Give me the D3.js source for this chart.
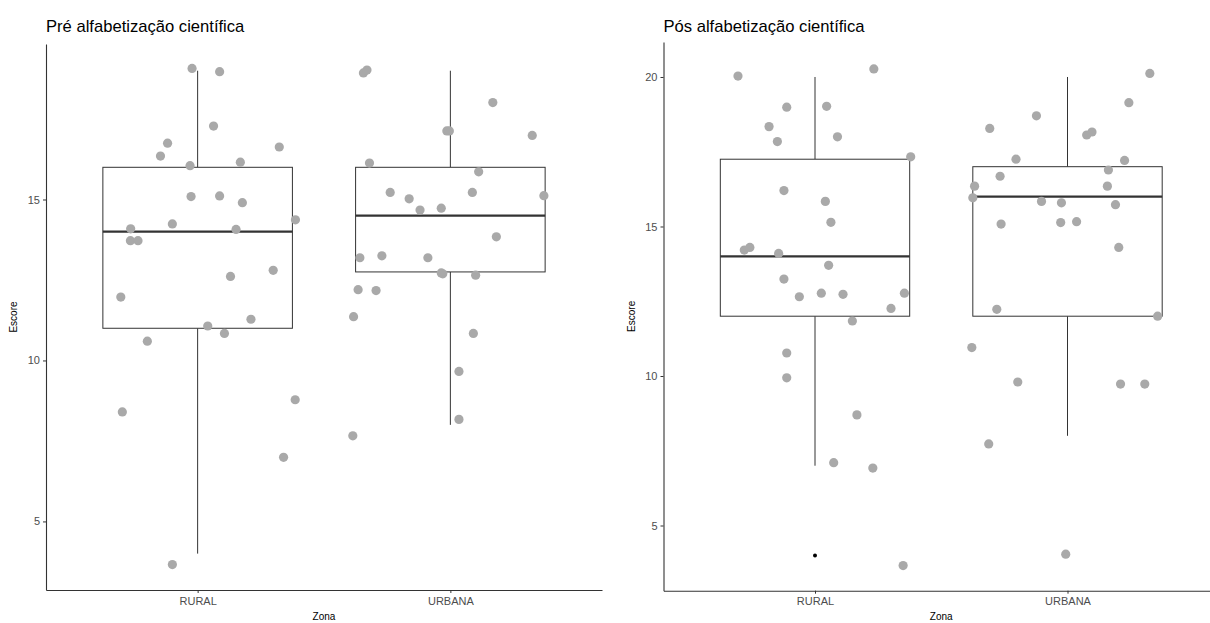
<!DOCTYPE html>
<html><head><meta charset="utf-8">
<script src="https://cdn.jsdelivr.net/npm/d3@7"></script>
<style>body{margin:0;background:#fff}svg{display:block;font-family:"Liberation Sans",Arial,sans-serif}</style>
</head><body><svg id="c" width="1210" height="623"></svg>
<script>
const categories = ["RURAL", "URBANA"];
const yTicks = [5, 10, 15, 20];
const titles = ["Pré alfabetização científica", "Pós alfabetização científica"];

// box statistics: [lower whisker, Q1, median, Q3, upper whisker]
const preBoxRural = [4, 11, 14, 16, 19];
const preBoxUrbana = [8, 12.75, 14.5, 16, 19];
const posBoxRural = [7, 12, 14, 17.25, 20];
const posBoxUrbana = [8, 12, 16, 17, 20];
const posOutliersRural = [4];

// jittered points: values and horizontal jitter offsets (category units)
const preRuralVal = [19.07,18.97,17.28,16.75,16.35,16.63,16.05,16.16,15.09,15.11,14.90,14.37,14.09,14.24,14.07,13.72,13.72,12.61,12.80,11.97,11.28,11.07,10.84,10.60,8.78,8.40,6.99,3.66];
const preRuralJit = [-0.022,0.087,0.063,-0.119,-0.147,0.323,-0.030,0.169,-0.026,0.087,0.177,0.387,-0.265,-0.100,0.152,-0.266,-0.236,0.130,0.299,-0.304,0.211,0.040,0.106,-0.199,0.386,-0.298,0.340,-0.100];
const preUrbanaVal = [18.93,19.02,18.01,17.13,17.13,16.99,16.13,15.86,15.22,15.02,15.22,15.12,14.67,14.73,13.84,13.19,13.25,13.19,12.69,12.72,12.65,12.20,12.17,11.36,10.84,9.66,8.17,7.66];
const preUrbanaJit = [-0.344,-0.330,0.168,-0.014,-0.004,0.324,-0.320,0.112,-0.238,-0.163,0.087,0.370,-0.120,-0.036,0.182,-0.358,-0.271,-0.089,-0.030,-0.036,0.100,-0.365,-0.294,-0.383,0.091,0.034,0.034,-0.386];
const posRuralVal = [20.03,20.27,18.99,19.02,18.34,17.84,18.00,17.33,16.20,15.84,15.14,14.21,14.30,14.10,13.70,13.24,12.65,12.77,12.73,12.77,12.26,11.84,10.77,9.94,8.70,7.10,6.92,3.66];
const posRuralJit = [-0.305,0.233,-0.112,0.046,-0.182,-0.149,0.089,0.379,-0.123,0.041,0.063,-0.280,-0.258,-0.144,0.054,-0.123,-0.062,0.025,0.111,0.354,0.301,0.148,-0.112,-0.112,0.166,0.074,0.229,0.349];
const posUrbanaVal = [20.12,19.14,18.70,18.28,18.06,18.16,17.25,17.21,16.89,16.68,16.35,16.35,15.96,15.84,15.79,15.73,15.08,15.13,15.16,14.30,12.23,12.00,10.95,9.80,9.73,9.73,7.73,4.04];
const posUrbanaJit = [0.326,0.243,-0.123,-0.308,0.076,0.097,-0.204,0.226,0.162,-0.267,-0.368,0.158,-0.375,-0.103,-0.024,0.190,-0.263,-0.027,0.036,0.203,-0.280,0.357,-0.379,-0.197,0.210,0.306,-0.312,-0.007];

const svg = d3.select("#c");
const font = "'Liberation Sans',Arial,sans-serif";

function panel(cfg){
  const g = svg.append("g");
  const x = d3.scaleLinear().domain([0.4, 2.6]).range([cfg.x0, cfg.x1]);
  const y = d3.scaleLinear().domain(cfg.ydom).range([cfg.yb, cfg.yt]);
  const bw = 0.75;
  cfg.boxes.forEach((b, i) => {
    const c = i + 1;
    const xl = x(c - bw/2), xr = x(c + bw/2), xc = x(c);
    const col = "#333333";
    g.append("line").attr("x1", xc).attr("x2", xc).attr("y1", y(b[4])).attr("y2", y(b[3])).attr("stroke", col).attr("stroke-width", 1);
    g.append("line").attr("x1", xc).attr("x2", xc).attr("y1", y(b[1])).attr("y2", y(b[0])).attr("stroke", col).attr("stroke-width", 1);
    g.append("rect").attr("x", xl).attr("y", y(b[3])).attr("width", xr - xl).attr("height", y(b[1]) - y(b[3]))
      .attr("fill", "#fff").attr("stroke", col).attr("stroke-width", 1);
    g.append("line").attr("x1", xl).attr("x2", xr).attr("y1", y(b[2])).attr("y2", y(b[2])).attr("stroke", col).attr("stroke-width", 2.2);
  });
  (cfg.outliers || []).forEach(o => {
    g.append("circle").attr("cx", x(o.c)).attr("cy", y(o.v)).attr("r", 2).attr("fill", "#000");
  });
  cfg.points.forEach(p => {
    p.vals.forEach((v, i) => {
      g.append("circle").attr("cx", x(p.c + p.jit[i])).attr("cy", y(v)).attr("r", 4.6).attr("fill", "#a9a9a9");
    });
  });
  // axes
  const yAxis = d3.axisLeft(y).tickValues(cfg.ticks).tickSize(3).tickSizeOuter(0).tickPadding(3);
  const ya = g.append("g").attr("transform", `translate(${cfg.x0},0)`).call(yAxis);
  const xAxis = d3.axisBottom(x).tickValues([1, 2]).tickFormat(d => categories[d - 1]).tickSize(3).tickSizeOuter(0).tickPadding(4);
  const xa = g.append("g").attr("transform", `translate(0,${cfg.yb})`).call(xAxis);
  [ya, xa].forEach(a => {
    a.select(".domain").attr("stroke", "#333").attr("stroke-width", 1.1);
    a.selectAll(".tick line").attr("stroke", "#333");
    a.selectAll(".tick text").attr("fill", "#4d4d4d").attr("font-size", 11).attr("font-family", font);
  });
  g.append("text").attr("x", cfg.x0).attr("y", 32).attr("font-size", 16.6).attr("fill", "#000").text(cfg.title);
  g.append("text").attr("transform", `translate(${cfg.x0 - 29},${(cfg.yt + cfg.yb)/2}) rotate(-90)`)
    .attr("text-anchor", "middle").attr("font-size", 10).attr("fill", "#000").text("Escore");
  g.append("text").attr("x", (x(1) + x(2))/2).attr("y", 620).attr("text-anchor", "middle")
    .attr("font-size", 10).attr("fill", "#000").text("Zona");
}

panel({x0: 46, x1: 602, yt: 44, yb: 590, ydom: [2.87, 19.83], ticks: yTicks.slice(0, 3), title: titles[0],
  boxes: [preBoxRural, preBoxUrbana],
  points: [{c: 1, vals: preRuralVal, jit: preRuralJit}, {c: 2, vals: preUrbanaVal, jit: preUrbanaJit}]});
panel({x0: 663.5, x1: 1219, yt: 42, yb: 590.7, ydom: [2.82, 21.17], ticks: yTicks, title: titles[1],
  boxes: [posBoxRural, posBoxUrbana], outliers: posOutliersRural.map(v => ({c: 1, v})),
  points: [{c: 1, vals: posRuralVal, jit: posRuralJit}, {c: 2, vals: posUrbanaVal, jit: posUrbanaJit}]});
</script></body></html>
